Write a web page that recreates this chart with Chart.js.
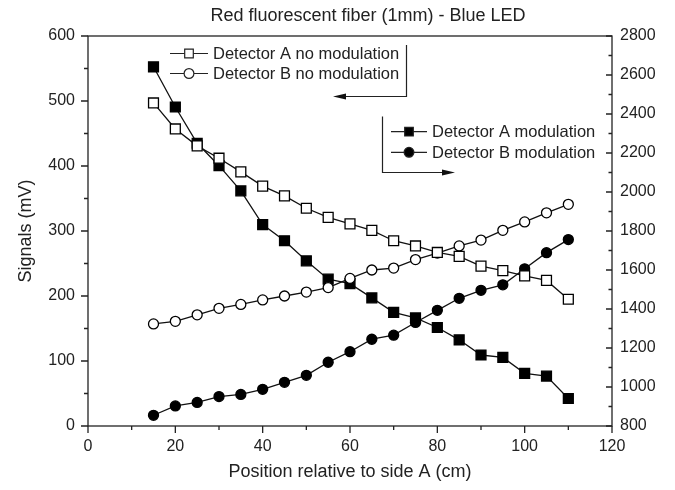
<!DOCTYPE html>
<html>
<head>
<meta charset="utf-8">
<script src="https://cdn.jsdelivr.net/npm/chart.js@4.4.0/dist/chart.umd.min.js"></script>
<style>
  html, body { margin: 0; padding: 0; background: #fff; }
</style>
</head>
<body>
<canvas id="myChart" width="675" height="490"></canvas>
<script>
// position along the fiber (cm)
var positions = [15, 20, 25, 30, 35, 40, 45, 50, 55, 60, 65, 70, 75, 80, 85, 90, 95, 100, 105, 110];
// left axis (mV)
var detANoMod = [497, 457, 431, 412, 391, 369, 354, 335, 321, 311, 301, 285, 277, 267, 261, 246, 239, 231, 224, 195];
var detBNoMod = [157, 161, 171, 181, 187, 194, 200, 206, 213, 227, 240, 243, 256, 266, 277, 286, 301, 314, 328, 341];
// right axis
var detAMod = [2642, 2436, 2250, 2135, 2006, 1833, 1750, 1647, 1553, 1530, 1457, 1383, 1354, 1305, 1242, 1164, 1152, 1070, 1056, 941];
var detBMod = [855, 903, 921, 951, 962, 988, 1024, 1060, 1127, 1181, 1245, 1266, 1331, 1393, 1455, 1496, 1524, 1606, 1689, 1756];

var chartTitle = 'Red fluorescent fiber (1mm) - Blue LED';
var legendLeft = ['Detector A no modulation', 'Detector B no modulation'];
var legendRight = ['Detector A modulation', 'Detector B modulation'];

var FONT = '"Liberation Sans", Arial, Helvetica, sans-serif';
Chart.defaults.font.family = FONT;
Chart.defaults.color = '#222';

function pts(ys) {
  return positions.map(function(x, i) { return { x: x, y: ys[i] }; });
}

function series(label, ys, axis, style, filled, r) {
  return {
    label: label,
    data: pts(ys),
    yAxisID: axis,
    borderColor: '#111',
    borderWidth: 1.3,
    tension: 0,
    pointStyle: style,
    pointRadius: r,
    pointBackgroundColor: filled ? '#000' : '#fff',
    pointBorderColor: '#000',
    pointBorderWidth: 1.3
  };
}

function plain(v) { return String(v); }

function marker(ctx, style, filled, x, y, s) {
  ctx.beginPath();
  if (style === 'rect') ctx.rect(x - s, y - s, 2 * s, 2 * s);
  else ctx.arc(x, y, s + 0.6, 0, Math.PI * 2);
  ctx.fillStyle = filled ? '#000' : '#fff';
  ctx.fill();
  ctx.stroke();
}

var decor = {
  id: 'decor',
  afterDraw: function(chart) {
    var ctx = chart.ctx, a = chart.chartArea;
    var sx = chart.scales.x, yl = chart.scales.yL, yr = chart.scales.yR;
    var v, p;
    ctx.save();
    ctx.strokeStyle = '#222';
    ctx.lineWidth = 1.3;
    ctx.strokeRect(a.left, a.top, a.right - a.left, a.bottom - a.top);

    // tick marks
    ctx.beginPath();
    for (v = 0; v <= 120; v += 10) {
      p = sx.getPixelForValue(v);
      ctx.moveTo(p, a.bottom); ctx.lineTo(p, a.bottom + (v % 20 ? 4 : 7));
    }
    for (v = 0; v <= 600; v += 50) {
      p = yl.getPixelForValue(v);
      ctx.moveTo(a.left, p); ctx.lineTo(a.left - (v % 100 ? 4 : 7), p);
    }
    for (v = 800; v <= 2800; v += 100) {
      p = yr.getPixelForValue(v);
      ctx.moveTo(a.right, p); ctx.lineTo(a.right - (v % 200 ? 3.5 : 6), p);
    }
    ctx.stroke();

    // title
    ctx.fillStyle = '#222';
    ctx.font = '18px ' + FONT;
    ctx.textAlign = 'center';
    ctx.textBaseline = 'alphabetic';
    ctx.fillText(chartTitle, 368, 21);

    // legends
    ctx.font = '16.5px ' + FONT;
    ctx.textAlign = 'left';
    ctx.textBaseline = 'middle';
    ctx.lineWidth = 1.2;
    var rows = [53.5, 73.5];
    for (var i = 0; i < 2; i++) {
      ctx.beginPath(); ctx.moveTo(170, rows[i]); ctx.lineTo(208, rows[i]); ctx.stroke();
      marker(ctx, i ? 'circle' : 'rect', false, 189, rows[i], 4.3);
      ctx.fillStyle = '#222';
      ctx.fillText(legendLeft[i], 213, rows[i] + 1);
    }
    rows = [131.7, 152.3];
    for (i = 0; i < 2; i++) {
      ctx.beginPath(); ctx.moveTo(391, rows[i]); ctx.lineTo(427, rows[i]); ctx.stroke();
      marker(ctx, i ? 'circle' : 'rect', true, 409, rows[i], 4.3);
      ctx.fillStyle = '#222';
      ctx.fillText(legendRight[i], 432, rows[i] + 1);
    }

    // bracket + arrows
    ctx.beginPath();
    ctx.moveTo(406.5, 45); ctx.lineTo(406.5, 96.5); ctx.lineTo(343, 96.5);
    ctx.moveTo(382.5, 116.5); ctx.lineTo(382.5, 172.5); ctx.lineTo(445, 172.5);
    ctx.stroke();
    ctx.fillStyle = '#111';
    ctx.beginPath();
    ctx.moveTo(333, 96.5); ctx.lineTo(346, 93.5); ctx.lineTo(346, 99.5); ctx.closePath();
    ctx.moveTo(455, 172.5); ctx.lineTo(442, 169.5); ctx.lineTo(442, 175.5); ctx.closePath();
    ctx.fill();
    ctx.restore();
  }
};

var ctx = document.getElementById('myChart').getContext('2d');
var myChart = new Chart(ctx, {
  type: 'line',
  data: {
    datasets: [
      series(legendLeft[0], detANoMod, 'yL', 'rect', false, 7),
      series(legendLeft[1], detBNoMod, 'yL', 'circle', false, 5),
      series(legendRight[0], detAMod, 'yR', 'rect', true, 7),
      series(legendRight[1], detBMod, 'yR', 'circle', true, 5)
    ]
  },
  options: {
    responsive: false,
    animation: false,
    layout: { padding: { top: 36, left: 0, right: 0, bottom: 0 } },
    plugins: {
      legend: { display: false },
      tooltip: { enabled: false }
    },
    scales: {
      x: {
        type: 'linear',
        min: 0, max: 120,
        ticks: { stepSize: 20, padding: 11, font: { size: 16 }, callback: plain },
        grid: { display: false, drawTicks: false },
        border: { display: false },
        title: {
          display: true,
          text: 'Position relative to side A (cm)',
          font: { size: 18 },
          padding: { top: 0, bottom: 7 }
        },
        afterFit: function(s) { s.height = 64; }
      },
      yL: {
        position: 'left',
        min: 0, max: 600,
        ticks: { stepSize: 100, padding: 13, font: { size: 16 }, callback: plain },
        grid: { display: false, drawTicks: false },
        border: { display: false },
        title: {
          display: true,
          text: 'Signals (mV)',
          font: { size: 18 },
          padding: { top: 15, bottom: 0 }
        },
        afterFit: function(s) { s.width = 88; }
      },
      yR: {
        position: 'right',
        min: 800, max: 2800,
        ticks: { stepSize: 200, padding: 8, font: { size: 16 }, callback: plain },
        grid: { display: false, drawTicks: false },
        border: { display: false },
        afterFit: function(s) { s.width = 63; }
      }
    }
  },
  plugins: [decor]
});
</script>
</body>
</html>
